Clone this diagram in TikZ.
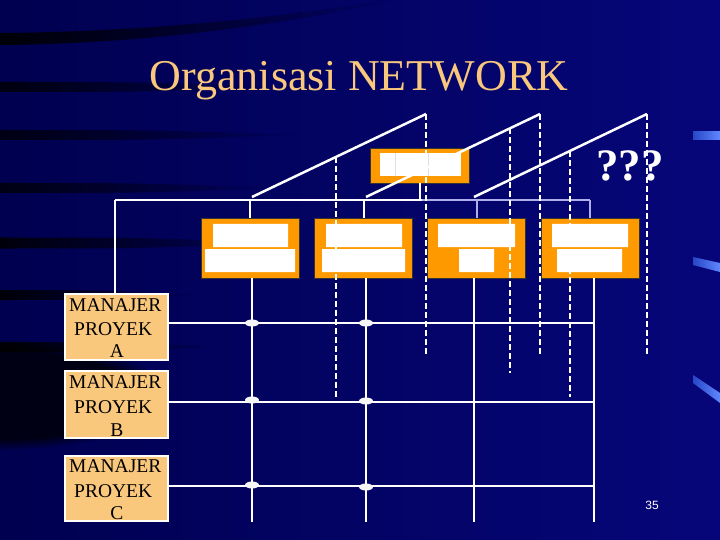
\documentclass[tikz,border=0pt]{standalone}
\usepackage{fontspec}
\setmainfont{Liberation Serif}
\newfontfamily\sansf{Liberation Sans}
\usetikzlibrary{shapes.geometric,calc,fadings}
\definecolor{bg}{RGB}{3,3,108}
\definecolor{bgL}{RGB}{0,0,80}
\definecolor{bgR}{RGB}{6,6,122}
\definecolor{titlec}{RGB}{250,200,125}
\definecolor{orangec}{RGB}{255,153,0}
\definecolor{mgrc}{RGB}{250,200,125}
\definecolor{barL}{RGB}{40,70,200}
\definecolor{barR}{RGB}{95,135,255}
\definecolor{lav}{RGB}{175,175,235}
\newcommand\mystreak[4]{%
  \fill[black, path fading=east, opacity=#4]
    (0,{#1-#3/2}) .. controls ({#2*0.5},{#1-#3/2}) .. (#2,#1)
    .. controls ({#2*0.5},{#1+#3/2}) .. (0,{#1+#3/2}) -- cycle;}
\begin{document}
\begin{tikzpicture}[x=1pt,y=-1pt,
  obox/.style={draw=black!80, line width=0.8pt, fill=orangec, minimum width=98pt,
    minimum height=60pt, inner sep=0pt, outer sep=0pt},
  mbox/.style={draw=white, line width=1.5pt, fill=mgrc, minimum width=103pt,
    inner sep=0pt, outer sep=0pt},
  wline/.style={draw=white, line width=2pt},
  lline/.style={draw=lav, line width=2pt},
  diag/.style={draw=white, line width=2.5pt},
  dline/.style={draw=white, line width=2pt, dash pattern=on 6pt off 3pt},
  mtext/.style={anchor=base west, inner sep=0pt, font=\fontsize{19.5}{23}\selectfont, text=black},
  ctext/.style={anchor=base, inner sep=0pt, font=\fontsize{19.5}{23}\selectfont, text=black},
  dot/.style={ellipse, fill=white!92!gray, minimum width=14pt, minimum height=7pt, inner sep=0pt}]
\useasboundingbox (0,0) rectangle (720,540);
% background
\shade[left color=bgL, right color=bgR] (0,0) rectangle (720,540);
\fill[black, path fading=east, opacity=0.9]
  (0,33) .. controls (150,32) and (300,15) .. (385,0) -- (395,0)
  .. controls (300,22) and (150,44) .. (0,45) -- cycle;
\mystreak{87}{280}{10}{0.8}
\mystreak{135}{300}{10}{0.75}
\mystreak{188}{280}{10}{0.75}
\mystreak{243}{280}{11}{0.85}
\mystreak{295}{200}{10}{0.9}
\mystreak{347}{220}{10}{0.9}
\fill[black, opacity=0.75, path fading=circle with fuzzy edge 20 percent] (0,395) ellipse (170 and 55);
% right bars
\shade[left color=barL, right color=barR] (693,132) rectangle (720,140);
\shade[left color=barL, right color=barR] (693,257) -- (720,263) -- (720,272) -- (693,265) -- cycle;
\shade[left color=barL, right color=barR] (693,375) -- (720,393) -- (720,403) -- (693,383) -- cycle;
% title
\node[font=\fontsize{44}{50}\selectfont, text=titlec, anchor=base, inner sep=0pt] (title) at (359,91) {Organisasi NETWORK};
% top box
\node[obox, minimum width=99pt, minimum height=35pt] (top) at (419.5,165.5) {};
\fill[white] (380,153) rectangle (461,176);
\draw[gray!25, line width=0.5pt] (395,153) -- (395,176) (428,153) -- (428,176);
% second level boxes
\node[obox] (b1) at (250,248) {};
\node[obox] (b2) at (363.5,248) {};
\node[obox] (b3) at (476.5,248) {};
\node[obox] (b4) at (590,248) {};
\fill[white] (213,224) rectangle (288,247) (205,249) rectangle (295,272);
\fill[white] (326,224) rectangle (402,247) (322,249) rectangle (405,272);
\fill[white] (438,224) rectangle (515,247) (459,249) rectangle (494,272);
\fill[white] (552,224) rectangle (628,247) (557,249) rectangle (622,272);
% manager boxes
\node[mbox, minimum height=66pt] (ma) at (116.5,327) {};
\node[mbox, minimum height=67pt] (mb) at (116.5,404.5) {};
\node[mbox, minimum height=65pt] (mc) at (116.5,488.5) {};
\node[mtext] (ma1) at (69,311) {MANAJER};
\node[mtext] (ma2) at (74,335) {PROYEK};
\node[ctext] (ma3) at (117,357) {A};
\node[mtext] (mb1) at (69,388) {MANAJER};
\node[mtext] (mb2) at (74,413) {PROYEK};
\node[ctext] (mb3) at (117,436) {B};
\node[mtext] (mc1) at (69,472) {MANAJER};
\node[mtext] (mc2) at (74,497) {PROYEK};
\node[ctext] (mc3) at (117,519) {C};
% bus
\coordinate (busL) at (115,200);
\coordinate (busM) at (422,200);
\coordinate (busR) at (590,200);
\draw[wline] (busL) -- (busM);
\draw[lline] (busM) -- (busR);
\draw[wline] (top.south) -- (top.south |- busL);
\draw[wline] (b1.north |- busL) -- (b1.north);
\draw[wline] (b2.north |- busL) -- (b2.north);
\draw[lline] (b3.north |- busL) -- (b3.north);
\draw[lline] (b4.north |- busL) -- (b4.north);
\draw[wline] (busL) -- (busL |- ma.north);
% grid
\coordinate (hA) at (594,323);
\coordinate (hB) at (594,402);
\coordinate (hC) at (594,486);
\draw[wline] (ma.east |- hA) -- (hA);
\draw[wline] (mb.east |- hB) -- (hB);
\draw[wline] (mc.east |- hC) -- (hC);
\draw[wline] ([xshift=2pt]b1.south) -- ++(0,244);
\draw[wline] ([xshift=2.5pt]b2.south) -- ++(0,244);
\draw[wline] ([xshift=-2.5pt]b3.south) -- ++(0,244);
\draw[wline] ([xshift=4pt]b4.south) -- ++(0,244);
\node[dot] (dA1) at (252,323) {};
\node[dot] (dA2) at (366,323) {};
\node[dot] (dB1) at (252,400) {};
\node[dot] (dB2) at (366,401) {};
\node[dot] (dC1) at (252,485) {};
\node[dot] (dC2) at (366,487) {};
% diagonals
\coordinate (q1) at (252,197);
\coordinate (q2) at (366,197);
\coordinate (q3) at (474,197);
\coordinate (p1) at (426,114);
\coordinate (p2) at (540,114);
\coordinate (p3) at (647,114);
\draw[diag] (q1) -- (p1);
\draw[diag] (q2) -- (p2);
\draw[diag] (q3) -- (p3);
% question marks
\node[font=\bfseries\fontsize{45}{52}\selectfont, text=white, anchor=base west, inner sep=0pt] (qq) at (596,181) {???};
% dashed
\draw[dline] (p1) -- ++(0,240);
\draw[dline] (p2) -- ++(0,241);
\draw[dline] (p3) -- ++(0,240);
\draw[dline] ($(q1)!0.483!(p1)$) -- ++(0,241);
\draw[dline] ($(q2)!0.828!(p2)$) -- ++(0,245);
\draw[dline] ($(q3)!0.555!(p3)$) -- ++(0,246);
% page number
\node[font=\sansf\fontsize{12}{14}\selectfont, text=white, anchor=base, inner sep=0pt] (pg) at (652,509) {35};
\end{tikzpicture}
\end{document}
